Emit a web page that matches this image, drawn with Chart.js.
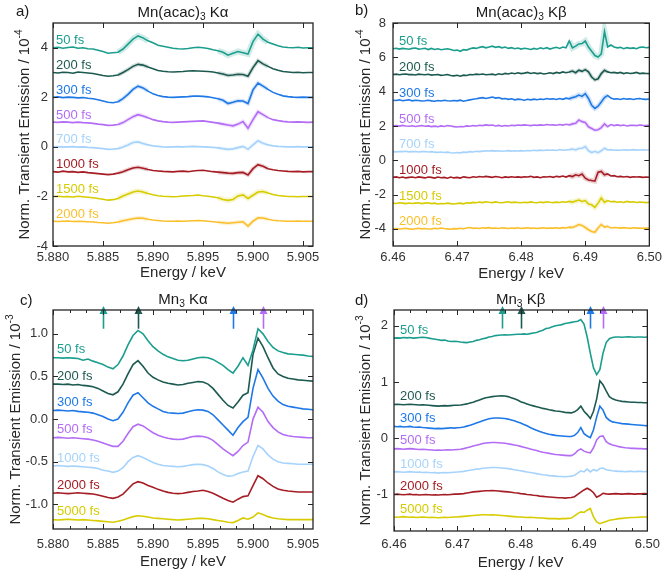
<!DOCTYPE html>
<html>
<head>
<meta charset="utf-8">
<script src="https://cdn.jsdelivr.net/npm/chart.js@4.4.1/dist/chart.umd.min.js"></script>
<style>
body { margin: 0; background: #fff; }
#wrap { position: relative; width: 666px; height: 574px; }
canvas { position: absolute; }
</style>
</head>
<body>
<div id="wrap">
<canvas id="pa" width="333" height="287" style="left:0;top:0"></canvas>
<canvas id="pb" width="333" height="287" style="left:333px;top:0"></canvas>
<canvas id="pc" width="333" height="287" style="left:0;top:287px"></canvas>
<canvas id="pd" width="333" height="287" style="left:333px;top:287px"></canvas>
</div>
<script>
const FONT = '"Liberation Sans", Arial, Helvetica, sans-serif';
const TXT = '#262626';

const TEAL = '#1b9e8e', DTEAL = '#1c5a50', BLUE = '#1e78e6', VIOLET = '#b36cf5',
      LBLUE = '#a6d3fb', DRED = '#a51c24', OLIVE = '#d6cc00', GOLD = '#fbbf2b';

// energy grids (keV)
const xKa = [5.8800,5.8805,5.8810,5.8815,5.8820,5.8825,5.8830,5.8835,5.8840,5.8845,
  5.8850,5.8855,5.8860,5.8865,5.8870,5.8875,5.8880,5.8885,5.8890,5.8895,
  5.8900,5.8905,5.8910,5.8915,5.8920,5.8925,5.8930,5.8935,5.8940,5.8945,
  5.8950,5.8955,5.8960,5.8965,5.8970,5.8975,5.8980,5.8985,5.8990,5.8995,
  5.9000,5.9005,5.9010,5.9015,5.9020,5.9025,5.9030,5.9035,5.9040,5.9045,
  5.9050,5.9055,5.9060];
const xKb = [6.4600,6.4605,6.4610,6.4615,6.4620,6.4625,6.4630,6.4635,6.4640,6.4645,
  6.4650,6.4655,6.4660,6.4665,6.4670,6.4675,6.4680,6.4685,6.4690,6.4695,
  6.4700,6.4705,6.4710,6.4715,6.4720,6.4725,6.4730,6.4735,6.4740,6.4745,
  6.4750,6.4755,6.4760,6.4765,6.4770,6.4775,6.4780,6.4785,6.4790,6.4795,
  6.4800,6.4805,6.4810,6.4815,6.4820,6.4825,6.4830,6.4835,6.4840,6.4845,
  6.4850,6.4855,6.4860,6.4865,6.4870,6.4875,6.4880,6.4885,6.4890,6.4895,
  6.4900,6.4905,6.4910,6.4915,6.4920,6.4925,6.4930,6.4935,6.4940,6.4945,
  6.4950,6.4955,6.4960,6.4965,6.4970,6.4975,6.4980,6.4985,6.4990,6.4995,
  6.5000];

// a) Mn(acac)3 Ka, difference signal (1e-4) and vertical offsets
const aLabels = ['50 fs','200 fs','300 fs','500 fs','700 fs','1000 fs','1500 fs','2000 fs'];
const aOffsets = [4, 3, 2, 1, 0, -1, -2, -3];
const a50 = [0.00,0.02,-0.02,0.01,0.03,-0.02,0.00,-0.04,-0.05,-0.10,-0.15,-0.22,-0.20,-0.18,-0.05,0.15,0.35,0.48,0.40,0.28,
  0.20,0.10,0.06,0.02,-0.02,-0.04,-0.05,-0.03,0.00,0.02,0.00,-0.03,-0.08,-0.12,-0.18,-0.30,-0.22,-0.15,-0.20,-0.25,
  0.25,0.55,0.35,0.22,0.15,0.08,0.03,0.01,0.00,0.02,-0.01,0.00,0.00];
const a200 = [0.00,-0.02,0.01,0.00,-0.03,0.02,0.00,-0.02,-0.04,-0.08,-0.12,-0.15,-0.13,-0.10,0.00,0.12,0.25,0.33,0.30,0.22,
  0.15,0.08,0.05,0.03,0.02,0.03,0.04,0.06,0.07,0.06,0.05,0.04,0.02,-0.02,-0.06,-0.12,-0.10,-0.07,-0.08,-0.15,
  0.20,0.48,0.35,0.25,0.15,0.09,0.04,0.02,0.00,0.01,-0.01,0.00,0.00];
const a300 = [0.00,0.02,-0.01,0.01,0.00,-0.02,-0.01,-0.04,-0.06,-0.10,-0.15,-0.20,-0.22,-0.18,-0.05,0.12,0.32,0.45,0.38,0.25,
  0.14,0.07,0.03,0.01,0.00,0.01,0.02,0.03,0.05,0.05,0.04,0.02,-0.02,-0.06,-0.12,-0.25,-0.20,-0.14,-0.15,-0.25,
  0.30,0.58,0.45,0.32,0.20,0.12,0.06,0.03,0.01,0.00,0.01,0.00,0.00];
const a500 = [0.00,-0.01,0.01,0.00,-0.02,0.00,-0.02,-0.03,-0.05,-0.08,-0.10,-0.13,-0.12,-0.10,-0.02,0.10,0.22,0.30,0.25,0.18,
  0.10,0.05,0.02,0.00,-0.01,0.00,0.01,0.02,0.03,0.04,0.05,0.02,-0.01,-0.04,-0.08,-0.12,-0.15,-0.08,0.02,-0.25,
  0.10,0.42,0.30,0.18,0.10,0.06,0.03,0.01,0.00,0.01,0.00,-0.01,0.00];
const a700 = [0.00,0.01,-0.01,0.00,0.01,-0.01,0.00,-0.02,-0.03,-0.05,-0.07,-0.10,-0.09,-0.07,0.00,0.08,0.18,0.20,0.14,0.08,
  0.04,0.02,0.00,-0.01,0.00,0.01,0.00,0.01,0.02,0.01,0.00,-0.01,-0.02,-0.04,-0.07,-0.10,-0.08,-0.03,0.02,-0.10,
  0.08,0.25,0.15,0.08,0.04,0.02,0.01,0.00,0.00,0.01,0.00,0.00,0.00];
const a1000 = [0.00,-0.02,0.02,-0.01,0.00,-0.03,-0.01,-0.04,-0.06,-0.08,-0.10,-0.12,-0.10,-0.06,0.00,0.08,0.15,0.18,0.14,0.09,
  0.05,0.03,0.01,0.00,-0.01,0.01,0.02,0.00,0.03,0.05,0.06,0.03,0.00,-0.02,-0.04,-0.06,-0.07,-0.04,-0.03,-0.13,
  0.12,0.28,0.22,0.12,0.08,0.05,0.03,0.01,0.00,0.01,-0.01,0.00,0.00];
const a1500 = [0.00,0.01,-0.01,0.00,-0.02,0.01,-0.01,-0.03,-0.05,-0.08,-0.11,-0.15,-0.13,-0.08,0.02,0.10,0.18,0.22,0.18,0.12,
  0.07,0.03,0.01,0.00,-0.01,0.00,0.02,0.03,0.04,0.06,0.03,0.01,-0.02,-0.05,-0.12,-0.16,-0.12,0.02,0.06,-0.08,
  0.05,0.18,0.20,0.14,0.08,0.04,0.02,0.00,0.00,-0.01,0.00,0.00,0.00];
const a2000 = [0.00,-0.01,0.00,0.01,-0.01,0.00,-0.01,-0.02,-0.03,-0.05,-0.06,-0.08,-0.06,-0.03,0.02,0.06,0.10,0.13,0.12,0.08,
  0.05,0.03,0.01,0.00,0.00,0.01,0.00,0.01,0.02,0.03,0.02,0.00,-0.02,-0.04,-0.06,-0.08,-0.06,-0.04,-0.02,-0.20,
  0.00,0.14,0.13,0.08,0.04,0.02,0.01,0.00,0.00,0.01,0.00,0.00,0.00];

// b) Mn(acac)3 Kb, difference signal (1e-4) and vertical offsets
const bLabels = aLabels;
const bOffsets = [6.5, 5, 3.5, 2, 0.5, -1, -2.5, -4];
const b50 = [0.00,0.03,-0.02,0.02,0.00,-0.03,0.02,0.04,-0.02,0.00,0.03,-0.05,0.02,-0.04,0.00,-0.06,-0.03,0.00,-0.05,-0.10,
  -0.08,-0.15,-0.05,-0.08,0.00,0.05,0.02,0.08,0.12,0.05,0.10,0.15,0.08,0.12,0.05,0.10,0.02,0.06,0.00,0.04,
  -0.02,0.03,0.00,-0.04,0.02,-0.03,0.05,0.00,0.06,-0.02,0.04,0.08,0.02,0.10,0.05,0.45,0.05,0.15,0.28,0.30,
  0.45,0.10,-0.15,-0.40,-0.48,-0.30,1.00,0.10,0.22,0.10,0.05,0.08,0.00,0.06,0.02,0.05,0.00,0.08,0.10,0.06,0.08];
const b200 = [0.00,0.02,-0.02,0.01,0.03,-0.01,0.00,-0.03,0.02,0.00,-0.02,0.01,-0.04,-0.02,0.00,-0.05,-0.03,0.00,-0.06,-0.08,
  -0.05,-0.10,-0.04,-0.06,0.00,-0.02,0.02,0.00,0.03,-0.02,0.00,0.02,-0.03,0.04,0.00,0.06,0.03,0.08,0.04,0.10,
  0.05,0.08,0.12,0.06,0.10,0.05,0.08,0.03,0.06,0.10,0.05,0.12,0.08,0.15,0.10,0.14,0.20,0.10,0.25,0.18,
  0.28,0.15,-0.15,-0.32,-0.25,0.05,0.25,0.15,0.10,0.12,0.08,0.12,0.05,0.10,0.06,0.08,0.12,0.05,0.08,0.06,0.05];
const b300 = [0.00,-0.02,0.02,-0.03,0.00,0.02,-0.04,0.00,-0.02,-0.05,-0.03,0.00,-0.04,-0.06,-0.02,-0.05,0.00,-0.03,-0.05,-0.02,
  -0.04,0.00,-0.06,-0.02,0.02,0.05,0.08,0.12,0.15,0.10,0.14,0.18,0.12,0.15,0.08,0.10,0.05,0.08,0.02,0.06,
  0.04,0.00,0.05,0.02,0.06,0.03,0.07,0.04,0.10,0.06,0.08,0.04,0.10,0.05,0.12,0.08,0.15,0.20,0.30,0.22,
  0.38,0.10,-0.30,-0.48,-0.35,-0.10,0.15,0.28,0.12,0.06,0.08,0.04,0.10,0.06,0.08,0.04,0.08,0.10,0.06,0.05,0.07];
const b500 = [0.00,0.02,-0.01,0.03,0.00,-0.02,0.01,-0.03,0.00,0.02,-0.02,0.00,-0.04,-0.01,-0.05,0.00,-0.03,0.02,0.00,-0.04,
  -0.06,-0.03,-0.05,0.00,-0.02,0.02,0.00,0.04,0.02,0.06,0.03,0.05,0.00,0.03,-0.02,0.02,0.00,0.04,0.02,0.05,
  0.03,0.06,0.04,0.02,0.05,0.03,0.06,0.04,0.08,0.05,0.06,0.04,0.08,0.05,0.10,0.06,0.12,0.15,0.35,0.25,
  0.20,-0.05,-0.15,-0.25,-0.22,-0.10,0.12,-0.05,0.08,0.02,0.06,0.02,0.05,0.00,0.03,0.04,0.02,0.05,0.03,0.02,0.04];
const b700 = [0.00,-0.01,0.01,0.00,0.02,-0.01,0.00,0.01,-0.02,0.00,0.01,-0.02,0.00,-0.03,-0.04,-0.02,-0.05,-0.03,-0.06,-0.08,
  -0.05,-0.07,-0.03,-0.04,0.00,-0.02,0.02,0.00,0.03,0.05,0.04,0.06,0.03,0.05,0.02,0.04,0.06,0.03,0.05,0.04,
  0.06,0.04,0.07,0.05,0.08,0.06,0.09,0.07,0.10,0.08,0.10,0.07,0.12,0.08,0.10,0.12,0.15,0.10,0.18,0.20,
  0.30,0.05,-0.05,0.02,-0.06,0.05,0.20,0.10,0.12,0.08,0.10,0.08,0.11,0.09,0.10,0.12,0.09,0.10,0.11,0.10,0.10];
const b1000 = [0.00,0.03,-0.02,0.02,-0.03,0.00,0.02,-0.02,0.03,0.00,-0.03,0.02,0.00,-0.04,0.02,-0.02,0.00,-0.05,0.02,-0.03,
  0.00,-0.04,0.03,0.00,-0.02,0.04,0.01,0.05,0.02,0.06,0.03,0.00,0.05,0.02,-0.02,0.03,0.00,0.04,0.01,0.03,
  0.00,0.04,0.02,0.06,0.00,0.03,-0.02,0.04,0.02,0.05,0.00,0.06,0.03,0.08,0.02,0.10,0.05,0.15,0.10,0.20,
  -0.05,-0.15,-0.18,-0.22,0.30,0.35,0.15,0.20,0.08,0.10,0.04,0.06,0.02,0.05,0.00,0.04,0.02,0.03,0.00,0.02,0.01];
const b1500 = [0.00,-0.02,0.02,0.00,-0.03,0.01,-0.02,0.00,0.02,-0.03,0.00,0.02,-0.03,0.00,-0.05,-0.02,-0.04,0.00,-0.03,-0.05,
  -0.02,0.00,-0.04,0.02,0.00,0.04,0.02,0.06,0.03,0.08,0.05,0.03,0.07,0.04,0.02,0.05,0.08,0.03,0.06,0.04,
  0.02,0.05,0.03,0.07,0.04,0.02,0.06,0.03,0.08,0.05,0.03,0.06,0.04,0.08,0.05,0.10,0.06,0.12,0.18,0.10,
  0.15,-0.05,-0.10,-0.25,0.00,0.30,0.05,0.15,0.08,0.10,0.05,0.08,0.04,0.10,0.06,0.08,0.04,0.06,0.05,0.03,0.05];
const b2000 = [0.00,0.02,-0.01,0.01,0.03,0.00,-0.02,0.01,0.03,0.00,0.02,-0.01,0.00,0.03,0.01,0.05,0.02,0.00,-0.02,0.01,
  0.00,0.03,0.01,0.05,0.08,0.03,0.05,0.02,0.06,0.04,0.07,0.03,0.05,0.02,0.06,0.04,0.02,0.05,0.03,0.06,
  0.02,0.04,0.06,0.03,0.05,0.02,0.04,0.06,0.03,0.05,0.04,0.06,0.03,0.07,0.05,0.10,0.08,0.15,0.25,0.20,
  0.08,-0.05,-0.15,-0.20,0.05,0.25,0.10,0.15,0.05,0.08,0.06,0.04,0.07,0.05,0.03,0.06,0.04,0.05,0.03,0.05,0.04];

// c) Mn3 Ka, plotted values (1e-3)
const cLabels = ['50 fs','200 fs','300 fs','500 fs','1000 fs','2000 fs','5000 fs'];
const c50 = [0.72,0.72,0.715,0.72,0.715,0.71,0.69,0.705,0.68,0.66,0.64,0.61,0.59,0.64,0.74,0.87,0.98,1.04,1.00,0.92,
  0.85,0.80,0.76,0.73,0.71,0.69,0.685,0.69,0.705,0.72,0.725,0.72,0.70,0.665,0.63,0.58,0.54,0.62,0.72,0.63,
  0.81,1.06,1.00,0.91,0.84,0.80,0.78,0.765,0.76,0.755,0.75,0.74,0.735];
const c200 = [0.41,0.41,0.405,0.41,0.40,0.405,0.395,0.39,0.38,0.36,0.33,0.30,0.285,0.32,0.41,0.53,0.64,0.685,0.62,0.54,
  0.49,0.46,0.435,0.42,0.41,0.40,0.405,0.42,0.43,0.44,0.435,0.41,0.36,0.29,0.22,0.16,0.13,0.20,0.28,0.31,
  0.76,0.95,0.85,0.72,0.60,0.53,0.50,0.48,0.47,0.46,0.455,0.45,0.445];
const c300 = [0.10,0.105,0.10,0.095,0.10,0.09,0.085,0.08,0.07,0.05,0.03,0.00,-0.02,0.00,0.08,0.19,0.28,0.31,0.25,0.19,
  0.15,0.12,0.09,0.075,0.07,0.065,0.07,0.085,0.10,0.11,0.105,0.09,0.05,-0.01,-0.07,-0.13,-0.19,-0.10,-0.03,0.02,
  0.36,0.58,0.48,0.36,0.27,0.21,0.17,0.15,0.14,0.13,0.12,0.115,0.11];
const c500 = [-0.22,-0.215,-0.22,-0.225,-0.22,-0.225,-0.23,-0.235,-0.245,-0.26,-0.28,-0.30,-0.32,-0.32,-0.26,-0.17,-0.09,-0.06,-0.08,-0.12,
  -0.16,-0.19,-0.21,-0.225,-0.235,-0.24,-0.235,-0.22,-0.205,-0.20,-0.205,-0.22,-0.25,-0.30,-0.35,-0.39,-0.43,-0.38,-0.31,-0.27,
  0.00,0.14,0.08,-0.03,-0.10,-0.15,-0.18,-0.195,-0.205,-0.21,-0.215,-0.22,-0.22];
const c1000 = [-0.55,-0.545,-0.55,-0.555,-0.55,-0.555,-0.56,-0.565,-0.57,-0.58,-0.60,-0.61,-0.625,-0.61,-0.57,-0.50,-0.45,-0.43,-0.45,-0.48,
  -0.51,-0.53,-0.545,-0.55,-0.555,-0.56,-0.555,-0.545,-0.535,-0.53,-0.535,-0.55,-0.58,-0.62,-0.65,-0.67,-0.665,-0.64,-0.62,-0.61,
  -0.44,-0.31,-0.35,-0.42,-0.47,-0.50,-0.515,-0.52,-0.525,-0.53,-0.53,-0.53,-0.53];
const c2000 = [-0.87,-0.865,-0.87,-0.875,-0.87,-0.865,-0.87,-0.875,-0.88,-0.89,-0.905,-0.92,-0.93,-0.915,-0.88,-0.82,-0.76,-0.735,-0.75,-0.78,
  -0.80,-0.825,-0.845,-0.86,-0.87,-0.875,-0.87,-0.86,-0.85,-0.845,-0.835,-0.85,-0.87,-0.90,-0.93,-0.955,-0.975,-0.94,-0.91,-0.90,
  -0.78,-0.665,-0.70,-0.75,-0.79,-0.82,-0.835,-0.845,-0.85,-0.855,-0.855,-0.855,-0.855];
const c5000 = [-1.18,-1.185,-1.18,-1.175,-1.18,-1.185,-1.18,-1.185,-1.19,-1.195,-1.20,-1.205,-1.21,-1.20,-1.185,-1.165,-1.145,-1.135,-1.14,-1.15,
  -1.16,-1.165,-1.17,-1.175,-1.18,-1.185,-1.18,-1.175,-1.17,-1.165,-1.165,-1.17,-1.18,-1.19,-1.20,-1.21,-1.215,-1.19,-1.16,-1.175,
  -1.15,-1.10,-1.12,-1.145,-1.16,-1.17,-1.175,-1.18,-1.18,-1.18,-1.18,-1.18,-1.18];
const cArrowX = [5.885, 5.8885, 5.898, 5.901];

// d) Mn3 Kb, plotted values (1e-3)
const dLabels = cLabels;
const d50 = [1.78,1.785,1.78,1.79,1.785,1.79,1.78,1.785,1.79,1.795,1.79,1.78,1.77,1.76,1.75,1.74,1.745,1.73,1.72,1.725,
  1.72,1.71,1.705,1.70,1.71,1.72,1.74,1.75,1.77,1.78,1.80,1.81,1.825,1.83,1.835,1.84,1.835,1.84,1.845,1.85,
  1.85,1.855,1.85,1.86,1.87,1.88,1.90,1.92,1.95,1.96,1.98,2.00,2.01,2.02,2.04,2.05,2.06,2.07,2.08,2.11,
  2.03,1.80,1.51,1.25,1.13,1.22,1.51,1.70,1.77,1.79,1.80,1.80,1.795,1.80,1.805,1.80,1.795,1.80,1.80,1.795,1.80];
const d200 = [0.60,0.605,0.60,0.595,0.60,0.605,0.60,0.595,0.59,0.595,0.59,0.585,0.58,0.575,0.57,0.575,0.58,0.575,0.58,0.585,
  0.585,0.59,0.60,0.61,0.625,0.64,0.66,0.68,0.70,0.72,0.73,0.74,0.745,0.75,0.755,0.75,0.74,0.72,0.70,0.68,
  0.65,0.63,0.61,0.59,0.575,0.56,0.545,0.53,0.52,0.505,0.495,0.485,0.48,0.47,0.46,0.455,0.45,0.47,0.51,0.57,
  0.48,0.42,0.35,0.48,0.70,1.02,0.95,0.84,0.74,0.70,0.68,0.665,0.655,0.65,0.645,0.64,0.64,0.635,0.635,0.63,0.63];
const d300 = [0.21,0.205,0.21,0.20,0.205,0.21,0.20,0.195,0.20,0.19,0.185,0.18,0.175,0.17,0.175,0.17,0.175,0.18,0.185,0.18,
  0.185,0.19,0.20,0.215,0.23,0.25,0.27,0.29,0.31,0.33,0.345,0.355,0.36,0.36,0.355,0.35,0.34,0.325,0.31,0.29,
  0.27,0.245,0.22,0.19,0.165,0.14,0.12,0.10,0.085,0.07,0.06,0.05,0.045,0.04,0.035,0.03,0.03,0.05,0.10,0.19,
  0.08,0.04,0.01,0.15,0.38,0.57,0.50,0.37,0.32,0.29,0.28,0.27,0.26,0.255,0.25,0.245,0.24,0.235,0.23,0.225,0.22];
const d500 = [-0.19,-0.185,-0.19,-0.195,-0.19,-0.185,-0.19,-0.195,-0.20,-0.195,-0.20,-0.205,-0.21,-0.215,-0.21,-0.215,-0.21,-0.205,-0.21,-0.205,
  -0.20,-0.195,-0.185,-0.17,-0.155,-0.14,-0.125,-0.11,-0.095,-0.085,-0.08,-0.075,-0.075,-0.08,-0.085,-0.09,-0.10,-0.11,-0.12,-0.13,
  -0.145,-0.16,-0.175,-0.19,-0.205,-0.22,-0.235,-0.25,-0.26,-0.27,-0.28,-0.29,-0.295,-0.30,-0.305,-0.31,-0.31,-0.28,-0.22,-0.19,
  -0.23,-0.25,-0.26,-0.17,-0.03,0.03,0.04,-0.06,-0.10,-0.12,-0.135,-0.15,-0.16,-0.17,-0.175,-0.18,-0.18,-0.185,-0.185,-0.19,-0.19];
const d1000 = [-0.60,-0.595,-0.60,-0.605,-0.60,-0.595,-0.60,-0.605,-0.60,-0.61,-0.605,-0.61,-0.615,-0.61,-0.62,-0.615,-0.61,-0.615,-0.61,-0.605,
  -0.60,-0.595,-0.59,-0.58,-0.57,-0.56,-0.55,-0.545,-0.535,-0.53,-0.525,-0.52,-0.52,-0.525,-0.53,-0.535,-0.54,-0.55,-0.56,-0.57,
  -0.58,-0.59,-0.60,-0.61,-0.62,-0.63,-0.64,-0.65,-0.655,-0.665,-0.67,-0.675,-0.68,-0.68,-0.685,-0.68,-0.675,-0.66,-0.62,-0.58,
  -0.60,-0.55,-0.60,-0.56,-0.58,-0.54,-0.53,-0.56,-0.57,-0.58,-0.585,-0.59,-0.59,-0.595,-0.59,-0.59,-0.595,-0.59,-0.59,-0.595,-0.59];
const d2000 = [-1.00,-0.995,-1.00,-1.005,-1.00,-0.995,-1.005,-1.00,-1.01,-1.005,-1.00,-1.005,-1.01,-1.005,-1.01,-1.005,-1.00,-1.005,-1.00,-0.995,
  -0.995,-0.99,-0.985,-0.975,-0.965,-0.955,-0.95,-0.945,-0.94,-0.935,-0.935,-0.93,-0.935,-0.94,-0.945,-0.95,-0.955,-0.96,-0.97,-0.975,
  -0.985,-0.99,-1.00,-1.005,-1.015,-1.02,-1.03,-1.035,-1.04,-1.045,-1.05,-1.055,-1.06,-1.06,-1.065,-1.06,-1.055,-1.04,-1.00,-0.96,
  -0.92,-0.89,-0.92,-0.97,-1.05,-1.02,-0.98,-0.99,-0.995,-0.99,-0.985,-0.99,-0.995,-0.99,-0.985,-0.99,-0.995,-0.99,-0.99,-0.985,-0.99];
const d5000 = [-1.40,-1.405,-1.40,-1.395,-1.40,-1.405,-1.40,-1.41,-1.405,-1.40,-1.405,-1.41,-1.405,-1.41,-1.415,-1.41,-1.405,-1.41,-1.405,-1.40,
  -1.40,-1.395,-1.39,-1.385,-1.38,-1.375,-1.37,-1.365,-1.36,-1.36,-1.365,-1.36,-1.365,-1.37,-1.375,-1.38,-1.385,-1.39,-1.395,-1.40,
  -1.40,-1.405,-1.41,-1.405,-1.41,-1.415,-1.42,-1.42,-1.425,-1.43,-1.43,-1.43,-1.435,-1.43,-1.43,-1.425,-1.42,-1.38,-1.34,-1.31,
  -1.32,-1.28,-1.25,-1.40,-1.49,-1.52,-1.50,-1.48,-1.46,-1.45,-1.44,-1.43,-1.425,-1.42,-1.415,-1.41,-1.41,-1.405,-1.40,-1.40,-1.40];
const dArrowX = [6.477, 6.480, 6.491, 6.493];

// tick values
const xTicksKa = [5.880, 5.885, 5.890, 5.895, 5.900, 5.905];
const xTicksKb = [6.46, 6.47, 6.48, 6.49, 6.50];
const yTicksA = [-4, -2, 0, 2, 4];
const yTicksB = [-4, -2, 0, 2, 4, 6, 8];
const yTicksC = [-1.0, -0.5, 0.0, 0.5, 1.0];
const yTicksD = [-1, 0, 1, 2];

const colorsAB = [TEAL, DTEAL, BLUE, VIOLET, LBLUE, DRED, OLIVE, GOLD];
const colorsCD = [TEAL, DTEAL, BLUE, VIOLET, LBLUE, DRED, OLIVE];
const arrowColors = [TEAL, DTEAL, BLUE, VIOLET];

function rgba(hex, a) {
  const n = parseInt(hex.slice(1), 16);
  return `rgba(${n >> 16},${(n >> 8) & 255},${n & 255},${a})`;
}

// text with sub/superscript pieces: [text, 0 normal | 1 sub | 2 sup]
function rich(ctx, parts, x, y, size) {
  const f = p => (p[1] ? size * 0.68 : size) + 'px ' + FONT;
  let w = 0;
  const ws = parts.map(p => { ctx.font = f(p); const m = ctx.measureText(p[0]).width; w += m; return m; });
  let cx = x - w / 2;
  ctx.textAlign = 'left';
  parts.forEach((p, i) => {
    ctx.font = f(p);
    const dy = p[1] === 1 ? size * 0.28 : p[1] === 2 ? -size * 0.36 : 0;
    ctx.fillText(p[0], cx, y + dy);
    cx += ws[i];
  });
}

const decor = {
  id: 'decor',
  afterDatasetsDraw(chart, args, o) {
    const { ctx, chartArea: ca, scales: { x, y } } = chart;
    ctx.save();
    ctx.textBaseline = 'middle';
    ctx.textAlign = 'left';
    ctx.font = '13px ' + FONT;
    o.labels.forEach((t, i) => {
      ctx.fillStyle = o.colors[i];
      ctx.fillText(t, ca.left + o.labelDx, y.getPixelForValue(o.starts[i]) - o.labelDy);
    });

    if (o.arrows) {
      o.arrows.forEach((xv, i) => {
        const px = Math.round(x.getPixelForValue(xv)) + 0.5;
        const tail = y.getPixelForValue(o.arrowTail);
        const tip = ca.top - 4;
        ctx.strokeStyle = arrowColors[i];
        ctx.fillStyle = arrowColors[i];
        ctx.lineWidth = 1.6;
        ctx.beginPath(); ctx.moveTo(px, tail); ctx.lineTo(px, tip + 6); ctx.stroke();
        ctx.beginPath(); ctx.moveTo(px, tip); ctx.lineTo(px - 4, tip + 8); ctx.lineTo(px + 4, tip + 8); ctx.closePath(); ctx.fill();
      });
    }

    // box and inward ticks
    ctx.strokeStyle = TXT;
    ctx.lineWidth = 1.3;
    ctx.strokeRect(ca.left, ca.top, ca.width, ca.height);
    ctx.lineWidth = 1;
    ctx.beginPath();
    x.ticks.forEach(t => {
      const px = Math.round(x.getPixelForValue(t.value)) + 0.5;
      ctx.moveTo(px, ca.bottom); ctx.lineTo(px, ca.bottom - 5);
      ctx.moveTo(px, ca.top); ctx.lineTo(px, ca.top + 5);
    });
    y.ticks.forEach(t => {
      const py = Math.round(y.getPixelForValue(t.value)) + 0.5;
      ctx.moveTo(ca.left, py); ctx.lineTo(ca.left + 5, py);
      ctx.moveTo(ca.right, py); ctx.lineTo(ca.right - 5, py);
    });
    if (o.minor) {
      const step = (x.ticks[1].value - x.ticks[0].value) / o.minor;
      for (let v = x.min; v <= x.max + 1e-9; v += step) {
        const px = Math.round(x.getPixelForValue(v)) + 0.5;
        ctx.moveTo(px, ca.bottom); ctx.lineTo(px, ca.bottom - 3);
        ctx.moveTo(px, ca.top); ctx.lineTo(px, ca.top + 3);
      }
    }
    ctx.stroke();

    // titles
    ctx.fillStyle = '#1a1a1a';
    rich(ctx, o.title, (ca.left + ca.right) / 2, 13, 15);
    ctx.textAlign = 'left';
    ctx.font = '15px ' + FONT;
    ctx.fillText(o.letter, o.letterX, o.letterY);
    ctx.fillStyle = TXT;
    rich(ctx, [['Energy / keV', 0]], (ca.left + ca.right) / 2, o.xTitleY, 15);
    ctx.translate(o.yTitleX, (ca.top + ca.bottom) / 2);
    ctx.rotate(-Math.PI / 2);
    rich(ctx, o.yTitle, 0, 0, 15);
    ctx.restore();
  }
};

function panel(id, p) {
  const inside = v => p.halo && p.halo.regions.some(r => v >= r[0] && v < r[1]);
  const datasets = [];
  p.series.forEach((s, i) => {
    const off = p.offsets ? p.offsets[i] : 0;
    const pts = p.xs.map((xv, k) => ({ x: xv, y: off + s[k] }));
    datasets.push({ data: pts, borderColor: p.colors[i], borderWidth: 1.6, pointRadius: 0, order: 0 });
    if (p.halo) {
      datasets.push({
        data: pts, borderColor: 'rgba(0,0,0,0)', borderWidth: p.halo.widths[i], pointRadius: 0, order: 1,
        segment: { borderColor: c => inside(c.p0.parsed.x) ? rgba(p.colors[i], 0.2) : 'rgba(0,0,0,0)' }
      });
    }
  });
  const starts = p.series.map((s, i) => (p.offsets ? p.offsets[i] : 0) + s[0]);
  const tickFont = { family: FONT, size: 13 };
  new Chart(document.getElementById(id), {
    type: 'line',
    data: { datasets },
    options: {
      responsive: false,
      animation: false,
      devicePixelRatio: 1,
      layout: { padding: { left: 0, right: 333 - p.box[1], top: p.box[2], bottom: 0 } },
      plugins: {
        legend: { display: false },
        tooltip: { enabled: false },
        decor: {
          labels: p.labels, colors: p.colors, starts, labelDx: p.labelDx, labelDy: p.labelDy,
          arrows: p.arrows, arrowTail: p.arrowTail, minor: p.minor,
          title: p.title, letter: p.letter, letterX: p.letterX, letterY: p.letterY,
          xTitleY: p.xTitleY, yTitleX: p.yTitleX, yTitle: p.yTitle
        }
      },
      scales: {
        x: {
          type: 'linear', min: p.xmin, max: p.xmax,
          afterFit: s => { s.height = 287 - p.box[3]; },
          afterBuildTicks: s => { s.ticks = p.xTicks.map(v => ({ value: v })); },
          grid: { display: false, drawTicks: false },
          border: { display: false },
          ticks: { font: tickFont, color: '#333', padding: p.xPad, maxRotation: 0, autoSkip: false,
            callback: v => v.toFixed(p.xDec) }
        },
        y: {
          type: 'linear', min: p.ymin, max: p.ymax,
          afterFit: s => { s.width = p.box[0]; },
          afterBuildTicks: s => { s.ticks = p.yTicks.map(v => ({ value: v })); },
          grid: { display: false, drawTicks: false },
          border: { display: false },
          ticks: { font: tickFont, color: '#333', padding: p.yPad, autoSkip: false,
            callback: v => v.toFixed(p.yDec) }
        }
      }
    },
    plugins: [decor]
  });
}

panel('pa', {
  xs: xKa, series: [a50, a200, a300, a500, a700, a1000, a1500, a2000], offsets: aOffsets,
  labels: aLabels, colors: colorsAB,
  halo: { regions: [[5.8865, 5.8895], [5.8965, 5.9015]], widths: [6, 4, 4, 4, 4, 4, 5, 4] },
  box: [53, 313, 23, 246], xmin: 5.880, xmax: 5.906, ymin: -4, ymax: 5,
  xTicks: xTicksKa, yTicks: yTicksA, xDec: 3, yDec: 0, xPad: 4, yPad: 5,
  labelDx: 3, labelDy: 7,
  title: [['Mn(acac)', 0], ['3', 1], [' K\u03b1', 0]], letter: 'a)', letterX: 16, letterY: 12,
  xTitleY: 273, yTitleX: 25, yTitle: [['Norm. Transient Emission / 10', 0], ['-4', 2]]
});

panel('pb', {
  xs: xKb, series: [b50, b200, b300, b500, b700, b1000, b1500, b2000], offsets: bOffsets,
  labels: bLabels, colors: colorsAB,
  halo: { regions: [[6.4875, 6.4935]], widths: [6, 4, 5, 4, 4, 5, 5, 4] },
  box: [60, 317, 23, 246], xmin: 6.46, xmax: 6.50, ymin: -5, ymax: 8,
  xTicks: xTicksKb, yTicks: yTicksB, xDec: 2, yDec: 0, xPad: 4, yPad: 7,
  labelDx: 6, labelDy: 7,
  title: [['Mn(acac)', 0], ['3', 1], [' K\u03b2', 0]], letter: 'b)', letterX: 22, letterY: 11,
  xTitleY: 274, yTitleX: 33, yTitle: [['Norm. Transient Emission / 10', 0], ['-4', 2]]
});

panel('pc', {
  xs: xKa, series: [c50, c200, c300, c500, c1000, c2000, c5000],
  labels: cLabels, colors: colorsCD,
  box: [53, 313, 23, 242], xmin: 5.880, xmax: 5.906, ymin: -1.29, ymax: 1.28,
  xTicks: xTicksKa, yTicks: yTicksC, xDec: 3, yDec: 1, xPad: 8, yPad: 5,
  labelDx: 4, labelDy: 8, arrows: cArrowX, arrowTail: 1.06, minor: 3,
  title: [['Mn', 0], ['3', 1], [' K\u03b1', 0]], letter: 'c)', letterX: 20, letterY: 14,
  xTitleY: 275, yTitleX: 16, yTitle: [['Norm. Transient Emission / 10', 0], ['-3', 2]]
});

panel('pd', {
  xs: xKb, series: [d50, d200, d300, d500, d1000, d2000, d5000],
  labels: dLabels, colors: colorsCD,
  box: [61, 320, 23, 244], xmin: 6.46, xmax: 6.50, ymin: -1.65, ymax: 2.28,
  xTicks: xTicksKb, yTicks: yTicksD, xDec: 2, yDec: 0, xPad: 6, yPad: 6,
  labelDx: 6, labelDy: 8, arrows: dArrowX, arrowTail: 1.95, minor: 4,
  title: [['Mn', 0], ['3', 1], [' K\u03b2', 0]], letter: 'd)', letterX: 22, letterY: 14,
  xTitleY: 276, yTitleX: 33, yTitle: [['Norm. Transient Emission / 10', 0], ['-3', 2]]
});
</script>
</body>
</html>
